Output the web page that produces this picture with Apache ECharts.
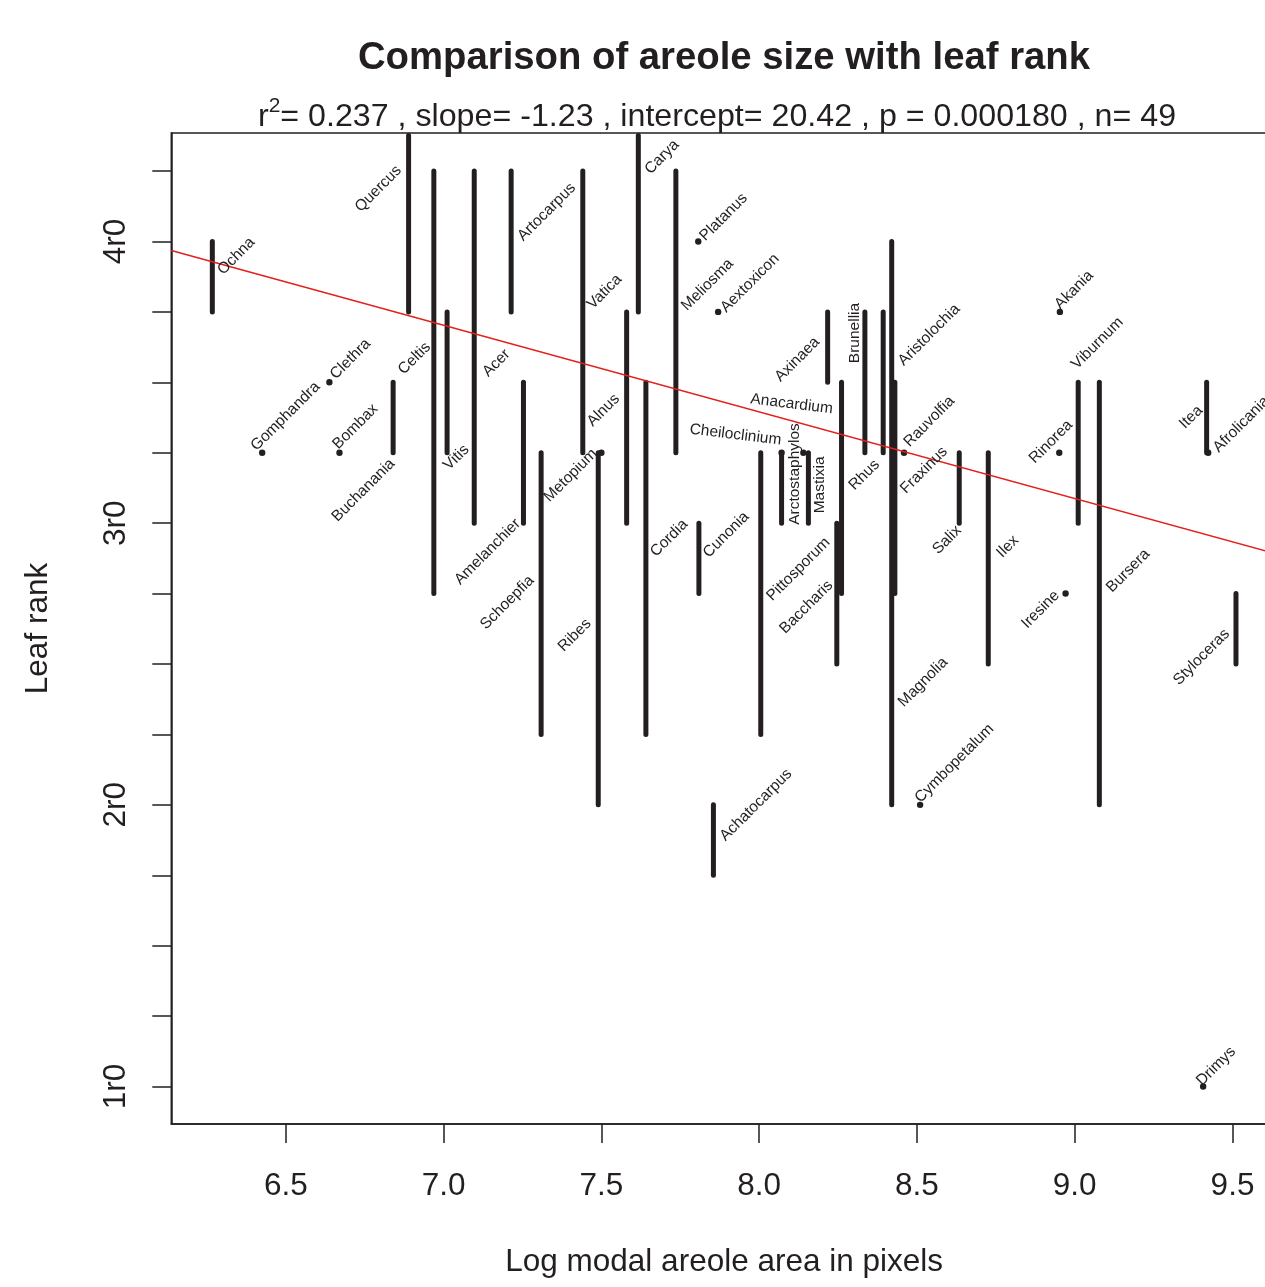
<!DOCTYPE html>
<html>
<head>
<meta charset="utf-8">
<title>Comparison of areole size with leaf rank</title>
<script src="https://cdn.jsdelivr.net/npm/echarts@6/dist/echarts.min.js"></script>
<style>
  html, body { margin: 0; padding: 0; background: #fff; }
  #chart { width: 1265px; height: 1287px; }
</style>
</head>
<body>
<div id="chart"></div>
<script>
var genera = ['Ochna', 'Gomphandra', 'Clethra', 'Bombax', 'Buchanania', 'Quercus', 'Celtis', 'Vitis',
  'Acer', 'Artocarpus', 'Amelanchier', 'Schoepfia', 'Vatica', 'Metopium', 'Ribes', 'Alnus',
  'Carya', 'Cordia', 'Meliosma', 'Cheiloclinium', 'Platanus', 'Cunonia', 'Achatocarpus', 'Aextoxicon',
  'Pittosporum', 'Arctostaphylos', 'Anacardium', 'Mastixia', 'Axinaea', 'Baccharis', 'Rhus', 'Brunellia',
  'Aristolochia', 'Magnolia', 'Fraxinus', 'Rauvolfia', 'Cymbopetalum', 'Salix', 'Ilex', 'Rinorea',
  'Akania', 'Iresine', 'Viburnum', 'Bursera', 'Drimys', 'Itea', 'Afrolicania', 'Styloceras'];

// log modal areole area (x) and the leaf rank range of each genus
var logArea = [6.267, 6.425, 6.638, 6.670, 6.840, 6.889, 6.969, 7.011,
  7.097, 7.214, 7.253, 7.309, 7.441, 7.500, 7.490, 7.580,
  7.617, 7.641, 7.736, 8.071, 7.807, 7.809, 7.855, 7.870,
  8.005, 8.071, 8.140, 8.156, 8.217, 8.246, 8.261, 8.335,
  8.393, 8.420, 8.430, 8.459, 8.510, 8.634, 8.726, 8.951,
  8.953, 8.971, 9.011, 9.078, 9.407, 9.418, 9.423, 9.511];
var rankLow = [3.75, 3.25, 3.5, 3.25, 3.25, 3.75, 2.75, 3.25,
  3.0, 3.75, 3.0, 2.25, 3.25, 3.25, 2.0, 3.0,
  3.75, 2.25, 3.25, 3.25, 4.0, 2.75, 1.75, 3.75,
  2.25, 3.0, 3.25, 3.0, 3.5, 2.5, 2.75, 3.25,
  3.25, 2.0, 2.75, 3.25, 2.0, 3.0, 2.5, 3.25,
  3.75, 2.75, 3.0, 2.0, 1.0, 3.25, 3.25, 2.5];
var rankHigh = [4.0, 3.25, 3.5, 3.25, 3.5, 4.75, 4.25, 3.75,
  4.25, 4.25, 3.5, 3.25, 4.25, 3.25, 3.25, 3.75,
  4.75, 3.5, 4.25, 3.25, 4.0, 3.0, 2.0, 3.75,
  3.25, 3.25, 3.25, 3.25, 3.75, 3.0, 3.5, 3.75,
  3.75, 4.0, 3.5, 3.25, 2.0, 3.25, 3.25, 3.25,
  3.75, 2.75, 3.5, 3.5, 1.0, 3.5, 3.25, 2.75];

// where each name sits (data units, start or end of its baseline)
var labelX = [6.303, 6.409, 6.660, 6.668, 6.849, 6.870, 6.962, 7.019,
  7.143, 7.254, 7.247, 7.290, 7.474, 7.490, 7.471, 7.561,
  7.657, 7.675, 7.773, 7.778, 7.831, 7.842, 7.895, 7.897,
  8.043, 8.129, 7.971, 8.208, 8.195, 8.237, 8.304, 8.319,
  8.460, 8.460, 8.467, 8.478, 8.513, 8.644, 8.772, 8.875,
  8.956, 8.955, 9.009, 9.120, 9.405, 9.409, 9.458, 9.494];
var labelY = [3.878, 3.253, 3.507, 3.259, 3.207, 4.248, 3.621, 3.184,
  3.516, 3.998, 2.994, 2.792, 3.756, 3.242, 2.639, 3.437,
  4.235, 2.877, 3.750, 3.316, 3.998, 2.874, 1.868, 3.744,
  2.720, 2.994, 3.423, 3.035, 3.639, 2.775, 3.113, 3.568,
  3.555, 2.344, 3.101, 3.267, 2.004, 2.970, 2.874, 3.208,
  3.756, 2.739, 3.543, 2.750, 0.999, 3.396, 3.247, 2.603];
// r = name runs on from the point, l = name ends at the point
var labelSide = ['r', 'r', 'r', 'r', 'l', 'l', 'l', 'r',
  'r', 'r', 'l', 'l', 'r', 'l', 'l', 'l',
  'r', 'r', 'r', 'r', 'r', 'r', 'r', 'r',
  'r', 'r', 'r', 'r', 'l', 'l', 'r', 'r',
  'r', 'r', 'r', 'r', 'r', 'l', 'r', 'r',
  'r', 'l', 'r', 'r', 'r', 'l', 'r', 'l'];
var labelAngle = [45, 45, 45, 45, 45, 45, 45, 45,
  45, 45, 45, 45, 45, 45, 45, 45,
  45, 45, 45, -7, 45, 45, 45, 45,
  45, 90, -7, 90, 45, 45, 45, 90,
  45, 45, 45, 45, 45, 45, 45, 45,
  45, 45, 45, 45, 45, 45, 45, 45];

var xTicks = [6.5, 7.0, 7.5, 8.0, 8.5, 9.0, 9.5];
var xTickLabels = ['6.5', '7.0', '7.5', '8.0', '8.5', '9.0', '9.5'];
var yTicks = [1, 1.25, 1.5, 1.75, 2, 2.25, 2.5, 2.75, 3, 3.25, 3.5, 3.75, 4, 4.25];
var yLabelTicks = [1, 2, 3, 4];
var yTickLabels = ['1r0', '2r0', '3r0', '4r0'];

var r2 = '0.237';
var slope = -1.23;
var intercept = 20.42;
var pValue = '0.000180';
var nObs = 49;

var xMin = 6.137, xMax = 9.641;
var yMin = 0.867, yMax = 4.385;

var ink = '#231f20';
var fontFam = '"Liberation Sans", Arial, Helvetica, sans-serif';

// fit was done on rank coded 4*rank-3
function fitRank(x) {
  return (intercept + slope * x + 3) / 4;
}

function pick(ticks, labels, v) {
  for (var i = 0; i < ticks.length; i++) {
    if (Math.abs(ticks[i] - v) < 1e-6) return labels[i];
  }
  return '';
}

var markData = genera.map(function (g, i) {
  return [logArea[i], rankLow[i], rankHigh[i], i];
});
var labelData = genera.map(function (g, i) {
  return [labelX[i], labelY[i], i];
});

var chart = echarts.init(document.getElementById('chart'), null, { renderer: 'canvas' });

chart.setOption({
  animation: false,
  backgroundColor: '#fff',
  graphic: [
    {
      type: 'text', x: 724, y: 58,
      style: {
        text: 'Comparison of areole size with leaf rank',
        font: 'bold 38.3px ' + fontFam, fill: ink,
        align: 'center', verticalAlign: 'middle'
      }
    },
    {
      type: 'text', x: 717, y: 117,
      style: {
        text: '{t|r}{s|2}{t|= ' + r2 + ' , slope= ' + slope + ' , intercept= ' + intercept +
          ' , p = ' + pValue + ' , n= ' + nObs + '}',
        align: 'center', verticalAlign: 'middle', fill: ink,
        rich: {
          t: { fontSize: 32.2, fontFamily: fontFam, lineHeight: 42, fill: ink },
          s: { fontSize: 21, fontFamily: fontFam, lineHeight: 21, verticalAlign: 'top', fill: ink }
        }
      }
    }
  ],
  grid: {
    left: 171.3, top: 133, width: 1105.7, height: 991,
    show: true, borderColor: ink, borderWidth: 1.5,
    outerBoundsMode: 'none'
  },
  xAxis: {
    type: 'value', min: xMin, max: xMax,
    name: 'Log modal areole area in pixels',
    nameLocation: 'middle', nameGap: 122,
    nameTextStyle: { fontSize: 31.5, fontFamily: fontFam, color: ink },
    axisLine: { show: true, onZero: false, lineStyle: { color: ink, width: 1.5 } },
    axisTick: { show: true, customValues: xTicks, length: 19, lineStyle: { color: ink, width: 1.5 } },
    axisLabel: {
      customValues: xTicks, margin: 46, fontSize: 31.5, fontFamily: fontFam, color: ink,
      formatter: function (v) { return pick(xTicks, xTickLabels, v); }
    },
    splitLine: { show: false }
  },
  yAxis: {
    type: 'value', min: yMin, max: yMax,
    name: 'Leaf rank',
    nameLocation: 'middle', nameGap: 117, nameRotate: 90,
    nameTextStyle: { fontSize: 31.5, fontFamily: fontFam, color: ink },
    axisLine: { show: true, onZero: false, lineStyle: { color: ink, width: 1.5 } },
    axisTick: { show: true, customValues: yTicks, length: 19, lineStyle: { color: ink, width: 1.5 } },
    axisLabel: {
      customValues: yLabelTicks, rotate: 90, margin: 39, fontSize: 31.5, fontFamily: fontFam, color: ink,
      formatter: function (v) { return pick(yLabelTicks, yTickLabels, v); }
    },
    splitLine: { show: false }
  },
  series: [
    {
      type: 'custom',
      name: 'range',
      data: markData,
      encode: { x: 0, y: [1, 2] },
      z: 2,
      renderItem: function (params, api) {
        var x = api.value(0), lo = api.value(1), hi = api.value(2);
        var a = api.coord([x, lo]);
        if (lo === hi) {
          return { type: 'circle', shape: { cx: a[0], cy: a[1], r: 3.2 }, style: { fill: ink } };
        }
        var b = api.coord([x, hi]);
        var top = params.coordSys.y + 2.5;
        if (b[1] < top) b[1] = top;
        return {
          type: 'line',
          shape: { x1: a[0], y1: a[1], x2: b[0], y2: b[1] },
          style: { stroke: ink, lineWidth: 5, lineCap: 'round' }
        };
      }
    },
    {
      type: 'line',
      name: 'fit',
      data: [[xMin, fitRank(xMin)], [xMax, fitRank(xMax)]],
      showSymbol: false,
      symbol: 'none',
      z: 3,
      lineStyle: { color: '#e3201b', width: 1.6 }
    },
    {
      type: 'custom',
      name: 'names',
      data: labelData,
      encode: { x: 0, y: 1 },
      z: 4,
      renderItem: function (params, api) {
        var i = api.value(2);
        var p = api.coord([api.value(0), api.value(1)]);
        return {
          type: 'text',
          x: p[0], y: p[1],
          rotation: labelAngle[i] * Math.PI / 180,
          style: {
            text: genera[i], x: 0, y: -5,
            align: labelSide[i] === 'l' ? 'right' : 'left',
            verticalAlign: 'middle',
            font: '15.5px ' + fontFam,
            fill: ink
          }
        };
      }
    }
  ]
});
</script>
</body>
</html>
